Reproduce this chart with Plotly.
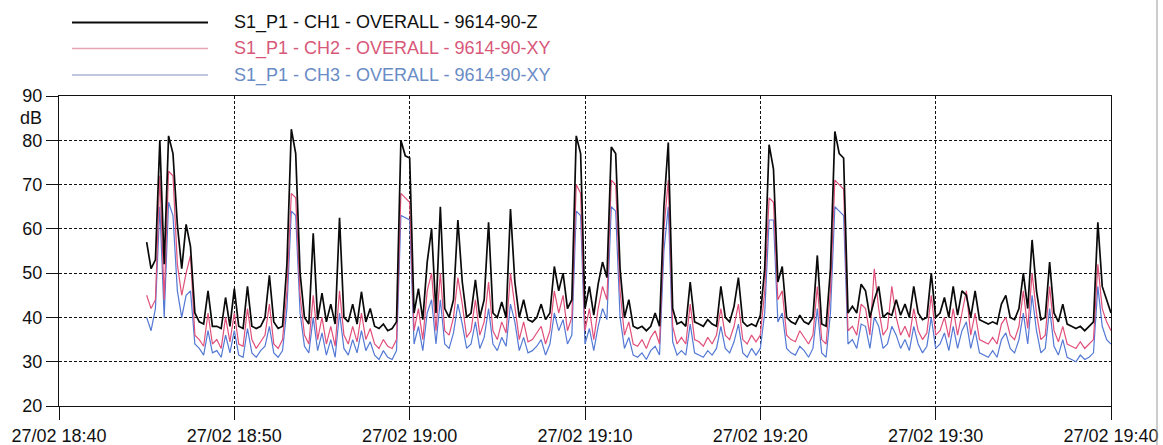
import pandas as pd
import plotly.graph_objects as go

# Overall vibration level, one reading every 15 s from 27/02 18:45 to 19:40
start_time = "2024-02-27 18:45:00"
sample_step = "15s"

ch1_db = [
    57, 51, 53, 80,  52, 81, 77, 61,  51, 61, 56, 41,  39, 38.5, 46, 38,
    38, 37.5, 44.5, 38,  46.5, 38, 37.5, 47,  38, 37.5, 38, 40,  49.5, 39, 37.5, 38,
    52, 82.5, 77, 50,  40, 38.5, 59, 39.5,  45.5, 39, 43, 38.5,  62.5, 40, 39, 43,
    38.5, 45.8, 39, 42,  38, 37.5, 38.5, 37,  37.5, 39, 80, 76.5,  76, 41, 46.5, 39.5,
    52.5, 60, 41, 65,  42, 40, 44, 62,  48, 40, 41, 48.5,  40, 44, 61.5, 41,
    40, 43.5, 40, 64.5,  48, 40, 44, 39.5,  39, 40, 43, 39.5,  41, 51.5, 46, 50,
    42, 44, 81, 77,  42, 47, 40.5, 47.5,  52.5, 49, 78.5, 77,  51, 40, 44, 38,
    37.5, 38, 37, 38,  41, 38, 65, 79.5,  42, 38.5, 39, 38,  48, 39, 38.5, 38,
    39.5, 38.5, 38, 47,  40, 39, 42.5, 49,  39, 38, 38.5, 38,  40.5, 51, 79, 73.5,
    48, 51.5, 40, 39,  38.5, 40.5, 39, 38.5,  40, 54, 38.5, 38,  51, 82, 77, 76,
    41, 42.5, 41, 47.5,  46, 40, 44, 47,  40, 41, 40.5, 44,  40.5, 43, 40, 47,
    41, 39.5, 40, 50,  40, 41, 44.5, 40,  47, 40.5, 46, 45,  40, 46, 39.5, 39,
    38.5, 39, 38.5, 43,  45, 40, 39.5, 42,  50, 42, 57.5, 46,  39.5, 40, 52.5, 41,
    39, 43, 38.5, 38,  37.5, 38, 37, 38,  39, 61.5, 47, 44,
    41,
]

ch2_db = [
    45, 42, 44, 72,  44, 73, 72, 52,  45, 50, 54, 36,  35, 33.5, 41, 34,
    35, 33, 40, 34.5,  41, 34, 33.5, 42,  35, 33, 34.5, 36,  43, 34, 33, 35,
    46, 68, 67, 45,  36, 34, 45, 35,  40, 34, 38, 33.5,  46, 36, 34, 38,
    34.5, 41, 35, 37.5,  34, 33, 35, 33.5,  33, 35, 68, 67,  66, 37, 42, 35,
    46, 50, 37, 50,  37, 36, 40, 49,  43, 35.5, 37, 44,  36, 39, 48, 37,
    35, 39, 36.5, 50,  43, 35, 39, 34.5,  35, 36.5, 38, 34,  37, 46, 41, 45,
    37, 40, 70, 68,  37, 42, 35, 42,  47, 44, 71, 70,  46, 36, 39, 34,
    33.5, 35, 33, 35.5,  37, 34, 60, 71,  38, 34, 35.5, 34,  43, 35, 34.5, 33.5,
    35.5, 34, 36, 42,  36, 35, 38, 43,  35, 34, 36, 34.5,  36, 46, 67, 66,
    44, 46, 36, 35,  34.5, 37, 35.5, 34,  36, 47, 35, 34,  46, 71, 70, 69,
    37, 38, 36, 43,  42, 36, 51, 42,  36, 37.5, 47, 40,  36, 38, 35.5, 42,
    37, 35, 36.5, 45,  36, 37, 40, 35.5,  42, 36, 41, 46,  36, 41, 35, 34.5,
    34, 35.5, 34, 38.5,  40, 36, 35, 38,  46, 37.5, 50, 41,  35, 36, 47, 37,
    34.5, 38, 34, 33.5,  33, 34.5, 33, 34,  35, 52, 42, 39,
    37,
]

ch3_db = [
    40, 37, 42, 65,  40, 66, 63, 46,  40, 45, 46, 34,  33, 31.5, 37, 32,
    32.5, 31, 36, 32,  37, 31.5, 31, 37.5,  32, 31, 32.5, 33.5,  38, 32, 31, 32.5,
    42, 64, 63, 41,  33.5, 32, 40, 32.5,  36.5, 31.5, 35, 31,  41, 33, 31.5, 35,
    32, 37, 32.5, 34.5,  31.5, 30.5, 32.5, 31,  30.5, 32.5, 63, 62.5,  62, 34, 38, 32.5,
    41, 44, 34, 44,  34, 33, 36.5, 43,  38.5, 33, 34, 39,  33, 35.5, 42, 34,
    32.5, 35.5, 33.5, 43,  39, 32.5, 35.5, 32,  32.5, 33.5, 35, 31.5,  34, 41, 37, 39.5,
    34, 36, 64, 63,  34, 37.5, 32.5, 38,  42, 39.5, 65, 64,  40, 33, 35.5, 31.5,
    31, 32, 30.5, 32.5,  33.5, 31.5, 55, 65,  34.5, 31.5, 32.5, 31.5,  38.5, 32, 31.5, 31,
    32.5, 31.5, 33, 38,  33, 32, 34.5, 38.5,  32, 31, 33, 31.5,  33, 41, 62, 62,
    39, 41, 33, 32,  31.5, 33.5, 32.5, 31,  33, 42, 32, 31,  41, 65, 64, 63,
    34, 35, 33, 38.5,  38, 33, 40, 38,  33, 34, 38, 36,  33, 35, 32.5, 38,
    34, 32, 33.5, 40,  33, 34, 36.5, 32.5,  38, 33, 37, 39,  33, 37, 32, 31.5,
    31, 32.5, 31, 35,  36.5, 33, 32, 35,  41, 34, 45, 37,  32, 33, 42, 33.5,
    31.5, 35, 31, 30.5,  30, 31.5, 30.5, 31,  32, 47, 38, 35,
    34,
]

series_names = [
    "S1_P1 - CH1 - OVERALL - 9614-90-Z",
    "S1_P1 - CH2 - OVERALL - 9614-90-XY",
    "S1_P1 - CH3 - OVERALL - 9614-90-XY",
]
line_colors = ["#0a0a0a", "#e0507a", "#5479d4"]
legend_line_colors = ["#0a0a0a", "#e6a6b6", "#aab4d2"]
text_colors = ["#111111", "#d8587a", "#6a8cc6"]

tick_times = [
    "2024-02-27 18:40", "2024-02-27 18:50", "2024-02-27 19:00", "2024-02-27 19:10",
    "2024-02-27 19:20", "2024-02-27 19:30", "2024-02-27 19:40",
]
tick_labels = [
    "27/02 18:40", "27/02 18:50", "27/02 19:00", "27/02 19:10",
    "27/02 19:20", "27/02 19:30", "27/02 19:40",
]
y_ticks = [20, 30, 40, 50, 60, 70, 80, 90]

times = pd.date_range(start_time, periods=len(ch1_db), freq=sample_step)

FONT = "Arial, Liberation Sans, sans-serif"
FS = 18

fig = go.Figure()
# Draw CH3 first and CH1 last so the Z channel sits on top
for values, name, color, width in [
    (ch3_db, series_names[2], line_colors[2], 1.2),
    (ch2_db, series_names[1], line_colors[1], 1.2),
    (ch1_db, series_names[0], line_colors[0], 1.7),
]:
    fig.add_trace(go.Scatter(
        x=times, y=values, mode="lines", name=name,
        line=dict(color=color, width=width), showlegend=False,
    ))

# Plot area in pixels
L, R, T, B = 59, 52, 96, 39
W, H = 1163, 445
pw, ph = W - L - R, H - T - B


def px_x(x):
    return (x - L) / pw


def px_y(y):
    return (H - B - y) / ph


# Legend block: long line samples with coloured labels
legend_rows = [22.5, 48.5, 75]
for row_y, name, lc, tc in zip(legend_rows, series_names, legend_line_colors, text_colors):
    fig.add_shape(type="line", xref="paper", yref="paper",
                  x0=px_x(72), x1=px_x(208), y0=px_y(row_y), y1=px_y(row_y),
                  line=dict(color=lc, width=1.8 if lc == legend_line_colors[0] else 1.4))
    fig.add_annotation(xref="paper", yref="paper", x=px_x(232), y=px_y(row_y),
                       text=name, showarrow=False, xanchor="left", yanchor="middle",
                       font=dict(family=FONT, size=FS, color=tc))

# Unit label under the top tick
fig.add_annotation(xref="paper", yref="paper", x=px_x(44), y=px_y(118),
                   text="dB", showarrow=False, xanchor="right", yanchor="middle",
                   font=dict(family=FONT, size=FS, color="#111"))

# Page edge line on the right
fig.add_shape(type="line", xref="paper", yref="paper",
              x0=px_x(1157), x1=px_x(1157), y0=px_y(0), y1=px_y(H),
              line=dict(color="#9a9a9a", width=1))

fig.update_layout(
    width=W, height=H,
    margin=dict(l=L, r=R, t=T, b=B, autoexpand=False),
    paper_bgcolor="white", plot_bgcolor="white",
    font=dict(family=FONT, size=FS, color="#111"),
)
fig.update_xaxes(
    range=[tick_times[0], tick_times[-1]],
    tickvals=tick_times, ticktext=tick_labels, automargin=False,
    ticks="outside", ticklen=13, tickcolor="#111", tickwidth=1,
    ticklabelstandoff=0,
    showline=True, linecolor="#111", linewidth=1.2, mirror=True,
    showgrid=True, gridcolor="#111", gridwidth=1.3, griddash="3px,2px",
    zeroline=False, tickfont=dict(family=FONT, size=FS, color="#111"),
)
fig.update_yaxes(
    range=[20, 90], tickvals=y_ticks, automargin=False,
    ticks="outside", ticklen=12, tickcolor="#111", tickwidth=1,
    showline=True, linecolor="#111", linewidth=1.2, mirror=True,
    showgrid=True, gridcolor="#111", gridwidth=1.3, griddash="3px,2px",
    zeroline=False, tickfont=dict(family=FONT, size=FS, color="#111"),
)

fig.write_html("out.html")
